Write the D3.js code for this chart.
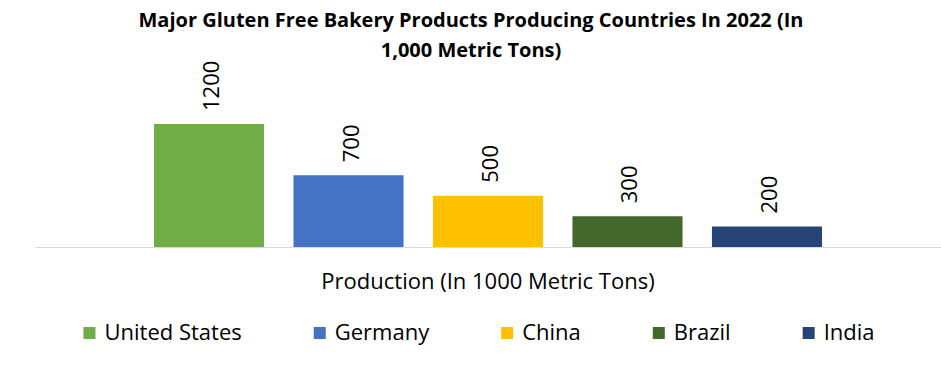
<!DOCTYPE html>
<html>
<head>
<meta charset="utf-8">
<script src="https://cdn.jsdelivr.net/npm/d3@7"></script>
<style>
  body { margin: 0; background: #fff; }
  text { font-family: "Open Sans", sans-serif; fill: #000; }
  .title { font-weight: bold; font-size: 20px; }
  .value { font-size: 22px; }
  .axis-title { font-size: 22px; }
  .legend text { font-size: 22px; }
</style>
</head>
<body>
<div id="chart"></div>
<script>
// data
let countries = ["United States", "Germany", "China", "Brazil", "India"];
let production = [1200, 700, 500, 300, 200];
let colors = ["#70AD47", "#4472C4", "#FFC000", "#43682B", "#264478"];
let titleLines = ["Major Gluten Free Bakery Products Producing Countries In 2022 (In", "1,000 Metric Tons)"];
let axisTitle = "Production (In 1000 Metric Tons)";

let width = 941, height = 372;
let plot = {left: 35, right: 941, base: 247, top: 124};

let svg = d3.select("#chart").append("svg")
    .attr("width", width)
    .attr("height", height);

svg.append("rect").attr("width", width).attr("height", height).attr("fill", "#fff");

// title
svg.append("g").selectAll("text")
    .data(titleLines)
    .enter().append("text")
    .attr("class", "title")
    .attr("x", 471)
    .attr("y", (d, i) => 27 + i * 30)
    .attr("text-anchor", "middle")
    .text((d) => d);

// scales
let x = d3.scaleBand()
    .domain(countries)
    .range([plot.left, plot.right])
    .paddingInner(0.211)
    .paddingOuter(0.853);

let y = d3.scaleLinear()
    .domain([0, 1200])
    .range([plot.base, plot.top]);

// baseline
svg.append("line")
    .attr("x1", plot.left)
    .attr("x2", plot.right)
    .attr("y1", plot.base + 0.5)
    .attr("y2", plot.base + 0.5)
    .attr("stroke", "#d9d9d9")
    .attr("stroke-width", 1);

// bars
svg.append("g").selectAll("rect")
    .data(countries)
    .enter().append("rect")
    .attr("x", (d) => x(d))
    .attr("y", (d, i) => y(production[i]))
    .attr("width", x.bandwidth())
    .attr("height", (d, i) => y(0) - y(production[i]))
    .attr("fill", (d, i) => colors[i]);

// value labels, rotated
svg.append("g").selectAll("text")
    .data(countries)
    .enter().append("text")
    .attr("class", "value")
    .attr("transform", (d, i) => "translate(" + (x(d) + x.bandwidth() / 2 + 1) + "," + (y(production[i]) - 13) + ") rotate(-90)")
    .attr("dominant-baseline", "central")
    .text((d, i) => production[i]);

// axis title
svg.append("text")
    .attr("class", "axis-title")
    .attr("x", 488)
    .attr("y", 289)
    .attr("text-anchor", "middle")
    .text(axisTitle);

// legend
let legend = svg.append("g").attr("class", "legend");
let items = legend.selectAll("g")
    .data(countries)
    .enter().append("g");
items.append("rect")
    .attr("width", 12)
    .attr("height", 12)
    .attr("y", 327)
    .attr("fill", (d, i) => colors[i]);
items.append("text")
    .attr("x", 21)
    .attr("y", 340)
    .text((d) => d);

let gap = 72, pos = 0, starts = [];
items.each(function (d) {
    starts.push(pos);
    pos += 21 + d3.select(this).select("text").node().getComputedTextLength() + gap;
});
let total = pos - gap;
let left = 479 - total / 2;
items.attr("transform", (d, i) => "translate(" + (left + starts[i]) + ",0)");
</script>
</body>
</html>
